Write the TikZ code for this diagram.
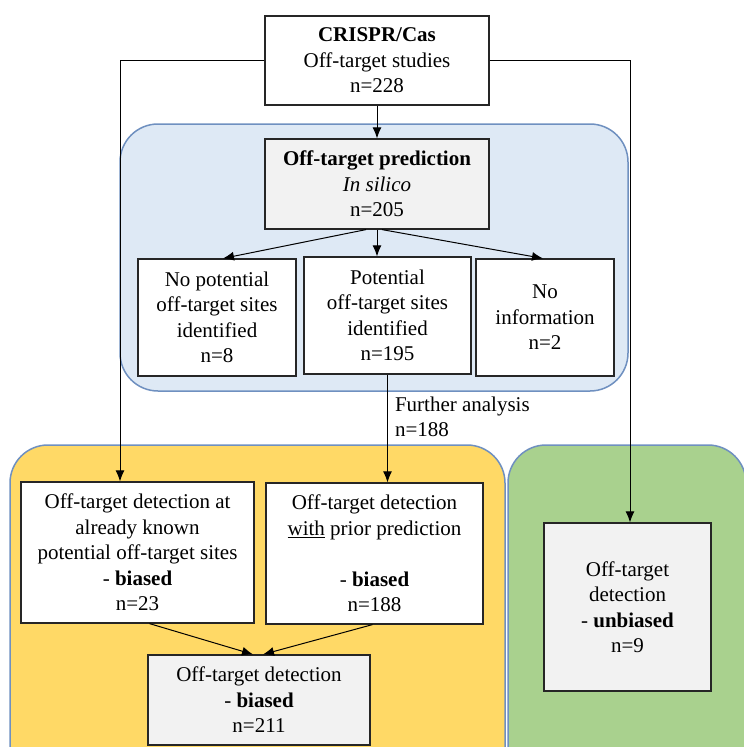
\documentclass[tikz,border=0pt]{standalone}
\usepackage{fontspec}
\setmainfont{Liberation Serif}
\usetikzlibrary{arrows.meta}
\usetikzlibrary{positioning}
\definecolor{panelblue}{HTML}{DEE9F5}
\definecolor{panelyellow}{HTML}{FFD966}
\definecolor{panelgreen}{HTML}{A9D18E}
\definecolor{paneledge}{HTML}{6F90C0}
\definecolor{boxgrey}{HTML}{F2F2F2}
\tikzset{box/.style = {draw=black!85, line width=1.2pt, fill=white, align=center, inner sep=0, font=\fontsize{21}{25.5}\selectfont}}
\tikzset{greybox/.style = {box, fill=boxgrey}}
\tikzset{note/.style = {align=left, inner sep=2pt, font=\fontsize{21}{25.5}\selectfont}}
\tikzset{arr/.style = {-{Latex[length=11pt,width=9pt]}, line width=1pt}}
\tikzset{panel/.style = {draw=paneledge, line width=1.5pt, rounded corners=38pt}}

\begin{document}
\begin{tikzpicture}[x=1pt,y=-1pt]
        \useasboundingbox (0,0) rectangle (744,747);
        % coloured panels
        \filldraw [panel, fill=panelblue] (120,124) rectangle (628,391);
        \filldraw [panel, fill=panelyellow] (10,445) rectangle (505,790);
        \filldraw [panel, fill=panelgreen] (508,445) rectangle (746,790);
        % boxes
        \node[box, minimum width=224, minimum height=89] (top) at (377,60.5) {\textbf{CRISPR/Cas}\\Off-target studies\\n=228};
        \node[greybox, minimum width=224, minimum height=90] (pred) at (377,184) {\textbf{Off-target prediction}\\\textit{In silico}\\n=205};
        \node[box, minimum width=158, minimum height=117] (nopot) at (217,317.5) {No potential\\off-target sites\\identified\\n=8};
        \node[box, minimum width=167, minimum height=117] (pot) at (387.5,315.5) {Potential\\off-target sites\\identified\\n=195};
        \node[box, minimum width=138, minimum height=117] (noinf) at (545,317.5) {No\\information\\n=2};
        \node[box, minimum width=233, minimum height=141] (known) at (137.5,552.5) {Off-target detection at\\already known\\potential off-target sites\\- \textbf{biased}\\n=23};
        \node[box, minimum width=217, minimum height=141] (prior) at (374.5,553.5) {Off-target detection\\\underline{with} prior prediction\\\mbox{}\\- \textbf{biased}\\n=188};
        \node[greybox, minimum width=222, minimum height=90] (bot) at (259,700) {Off-target detection\\- \textbf{biased}\\n=211};
        \node[greybox, minimum width=167, minimum height=168] (unb) at (627.5,607) {Off-target\\detection\\- \textbf{unbiased}\\n=9};
        % connectors
        \coordinate (lft) at (120,0);
        \coordinate (rgt) at (630,0);
        \draw [arr] (top.west) -| (lft |- known.north);
        \draw [arr] (top.east) -| (rgt |- unb.north);
        \draw [arr] (top.south) -- (pred.north);
        \draw [arr] ([xshift=-11pt]pred.south) -- ([xshift=6pt]nopot.north);
        \draw [arr] (pred.south) -- (pred.south |- pot.north);
        \draw [arr] ([xshift=5pt]pred.south) -- ([xshift=-2pt]noinf.north);
        \draw [arr] (pot.south) -- (pot.south |- prior.north) node[note, pos=0.39, right=5pt] (further) {Further analysis\\n=188};
        \draw [arr] ([xshift=12pt]known.south) -- ([xshift=-6pt]bot.north);
        \draw [arr] ([xshift=-2pt]prior.south) -- ([xshift=4pt]bot.north);
    \end{tikzpicture}
\end{document}
